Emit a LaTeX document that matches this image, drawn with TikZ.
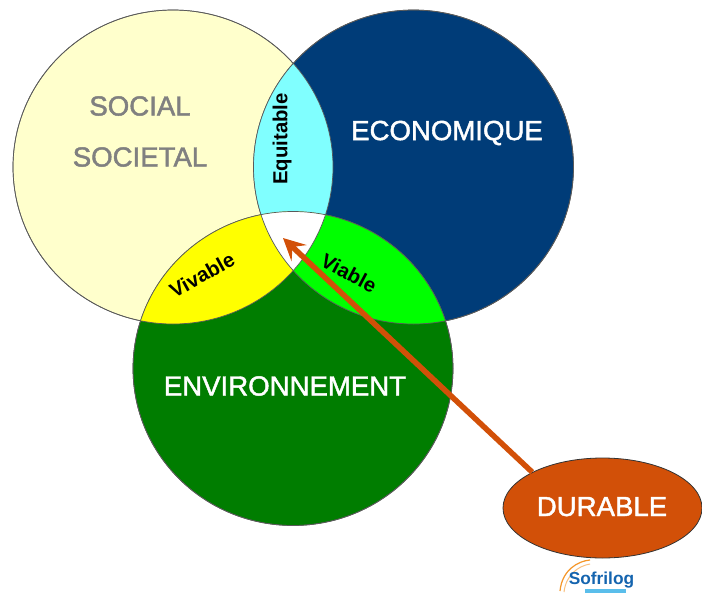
\documentclass[tikz,border=0pt]{standalone}
\usepackage{fontspec}
\setmainfont{Liberation Sans}
\newfontfamily\heavyfont[FakeBold=1.6]{Liberation Sans}
\usetikzlibrary{arrows.meta,shapes.geometric}
\definecolor{cream}{RGB}{255,255,204}
\definecolor{navy}{RGB}{0,60,120}
\definecolor{forest}{RGB}{0,125,0}
\definecolor{aqua}{RGB}{128,255,255}
\definecolor{lime}{RGB}{0,255,0}
\definecolor{sun}{RGB}{255,255,0}
\definecolor{rust}{RGB}{210,80,8}
\definecolor{greytext}{RGB}{128,128,128}
\definecolor{edgegrey}{RGB}{90,90,90}
\definecolor{logoblue}{RGB}{20,100,175}
\definecolor{logobar}{RGB}{90,190,235}
\definecolor{logoswoosh}{RGB}{245,150,40}
\tikzset{
  disc/.style={ellipse,inner sep=0pt,minimum width=320pt,minimum height=314pt,draw=edgegrey,line width=0.7pt},
  radii/.style={x radius=160pt,y radius=157pt},
  big/.style={font=\fontsize{27.6}{27.6}\selectfont\heavyfont,inner sep=0pt},
  small/.style={font=\fontsize{20.3}{20.3}\selectfont\bfseries,inner sep=0pt,text=black},
  outline/.style={draw=edgegrey,line width=0.7pt},
}
\begin{document}
\begin{tikzpicture}[x=1pt,y=-1pt]
\useasboundingbox (0,0) rectangle (702,595);
\fill[white] (0,0) rectangle (702,595);
\coordinate (cs) at (173,167);
\coordinate (ce) at (413.5,167);
\coordinate (cv) at (293,368.5);
\node[disc,fill=cream] (social) at (cs) {};
\node[disc,fill=navy] (eco) at (ce) {};
\node[disc,fill=forest] (env) at (cv) {};
% overlaps
\begin{scope}
  \clip (cs) ellipse [radii];
  \fill[aqua] (ce) ellipse [radii];
\end{scope}
\begin{scope}
  \clip (cs) ellipse [radii];
  \fill[sun] (cv) ellipse [radii];
\end{scope}
\begin{scope}
  \clip (ce) ellipse [radii];
  \fill[lime] (cv) ellipse [radii];
\end{scope}
\begin{scope}
  \clip (cs) ellipse [radii];
  \clip (ce) ellipse [radii];
  \fill[white] (cv) ellipse [radii];
\end{scope}
\draw[outline] (cs) ellipse [radii];
\draw[outline] (ce) ellipse [radii];
\draw[outline] (cv) ellipse [radii];
% labels
\node[big,text=greytext] (l1) at (140,106) {SOCIAL};
\node[big,text=greytext] (l2) at (140,157) {SOCIETAL};
\node[big,text=white] (l3) at (447,133) {ECONOMIQUE};
\node[big,text=white] (l4) at (285,386) {ENVIRONNEMENT};
\node[small,rotate=90] (eq) at (282,139) {Equitable};
\node[small,rotate=29] (viv) at (202,275) {Vivable};
\node[small,rotate=-28] (via) at (349,273) {Viable};
% durable
\node[ellipse,draw=black!80,line width=0.8pt,fill=rust,text=white,inner sep=0pt,minimum width=199pt,minimum height=100pt,big] (dur) at (602.5,508) {\hspace{-1pt}\raisebox{3pt}{DURABLE}};
\coordinate (tip) at (283,238);
\draw[rust,line width=5.5pt,-{Stealth[length=22pt,width=22pt,inset=9pt]}] (dur.153) -- (tip);
% logo
\draw[logoswoosh,line width=1.2pt] (560,591) .. controls (562,570) and (578,561) .. (590,560);
\draw[logoswoosh!60,line width=1pt] (564,592) .. controls (566,575) and (578,566) .. (590,564);
\fill[logobar] (585,589) rectangle (626,593);
\node[inner sep=0pt,text=logoblue,font=\fontsize{17.3}{17.3}\selectfont\bfseries] (logo) at (601.5,580) {Sofrilog};
\end{tikzpicture}
\end{document}
